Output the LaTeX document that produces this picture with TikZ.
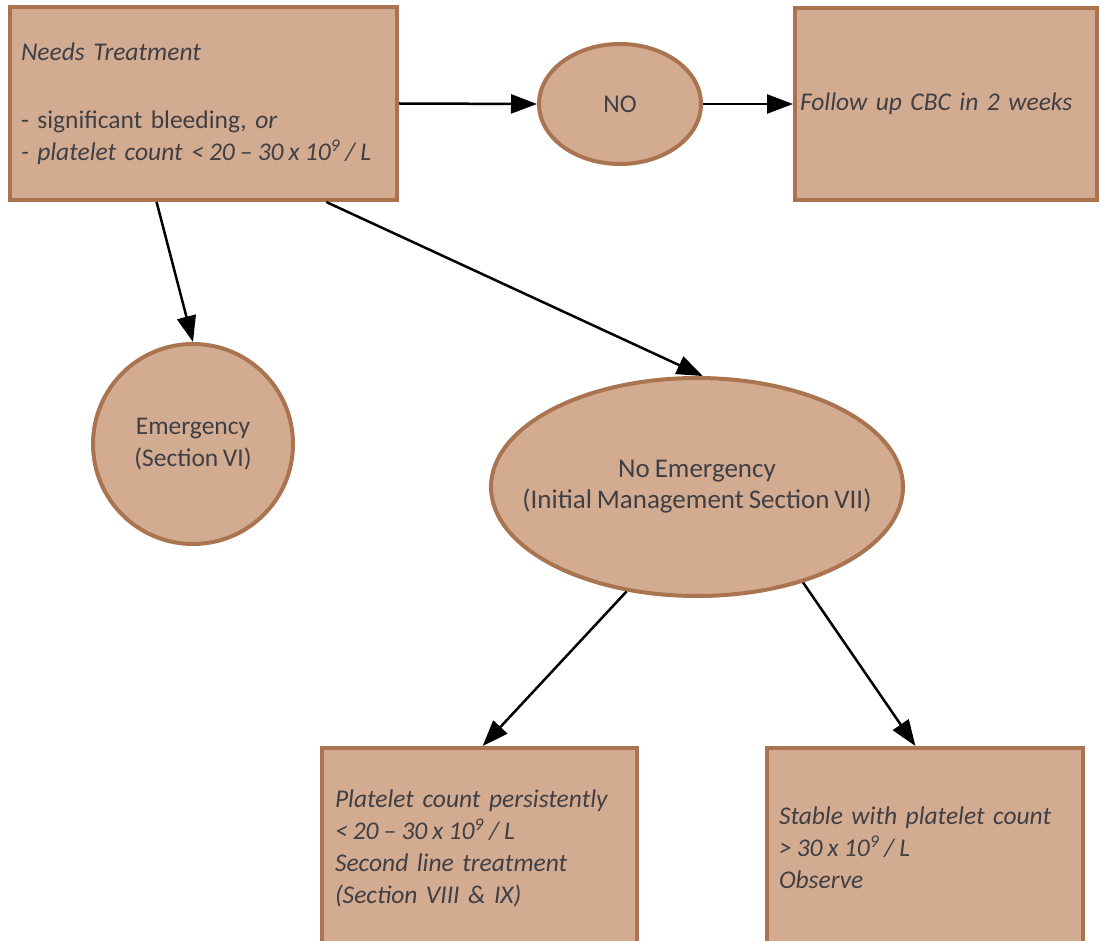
\documentclass[tikz,border=0pt]{standalone}
\usepackage{fontspec}
\setmainfont{Carlito}[WordSpace=0.8]
\usetikzlibrary{arrows.meta,shapes.geometric,calc}
\definecolor{fillc}{HTML}{D2AB90}
\definecolor{linec}{HTML}{A9744F}
\definecolor{txt}{HTML}{3F3F45}
\newcommand\tsp{\hspace{0.2em}}
\begin{document}
\begin{tikzpicture}[x=1pt,y=-1pt,
  txtfont/.style={text=txt,font=\fontsize{25.5}{32}\selectfont},
  shapebase/.style={draw=linec,line width=4pt,fill=fillc,txtfont},
  boxnode/.style={shapebase,rectangle,inner ysep=0pt,align=left},
  ovalnode/.style={shapebase,ellipse,align=center,inner sep=0pt},
  conn/.style={line width=2.5pt,-{Triangle[length=26pt,width=19pt]}}]
\useasboundingbox[fill=white] (0,0) rectangle (1107,941);

\node[boxnode,minimum width=387pt,minimum height=193pt,inner xsep=11pt,text width=365pt] (A) at (203.5,103.5)
  {\textit{Needs Treatment}\\[36pt]- significant bleeding, \textit{or}\\\mbox{\textit{- platelet count <\tsp 20\tsp –\tsp 30\tsp x\tsp 10\textsuperscript{9}\tsp /\tsp L}}};

\node[ovalnode,minimum width=162pt,minimum height=120pt] (no) at (620,104) {NO};

\node[boxnode,minimum width=302pt,minimum height=192pt,inner xsep=5pt,text width=292pt] (fu) at (946,104)
  {\textit{Follow up CBC in 2 weeks}};

\node[shapebase,circle,minimum size=200pt,align=center,inner sep=0pt] (em) at (193,444)
  {Emergency\\(Section VI)};

\node[ovalnode,minimum width=412pt,minimum height=218pt] (ne) at (697,487) {};
\node[text=txt,align=center,font=\fontsize{27}{31}\selectfont] (netext) at (ne.center)
  {No Emergency\\(Initial Management Section VII)};

\node[boxnode,minimum width=315pt,minimum height=200pt,inner xsep=13pt,text width=289pt] (pl) at (479.5,848)
  {\textit{Platelet count persistently}\\\textit{<\tsp 20\tsp –\tsp 30\tsp x\tsp 10\textsuperscript{9}\tsp /\tsp L}\\\textit{Second line treatment}\\\textit{(Section VIII \& IX)}};

\node[boxnode,minimum width=316pt,minimum height=200pt,inner xsep=12pt,text width=292pt] (st) at (925,848)
  {\textit{Stable with platelet count}\\\textit{>\tsp 30\tsp x\tsp 10\textsuperscript{9}\tsp /\tsp L}\\\textit{Observe}};

\draw[conn] (A.east) -- (no.west);
\draw[conn] (no.east) -- (fu.west);
\draw[conn] ($(A.south west)!0.38!(A.south east)$) -- (em.north);
\draw[conn] ($(A.south west)!0.814!(A.south east)$) -- (ne.87);
\draw[conn] (ne.236) -- ($(pl.north west)!0.51!(pl.north east)$);
\draw[conn] (ne.318) -- ($(st.north west)!0.47!(st.north east)$);
\end{tikzpicture}
\end{document}
